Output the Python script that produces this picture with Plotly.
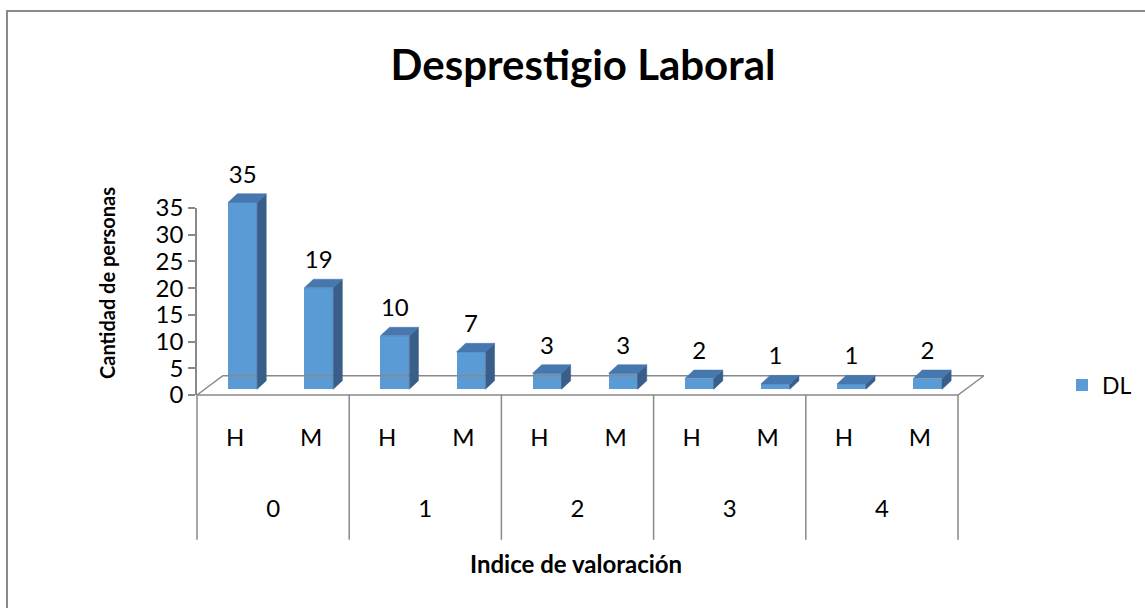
import plotly.graph_objects as go

# ---- data -------------------------------------------------------------
title = "Desprestigio Laboral"
groups = ["0", "1", "2", "3", "4"]
sexes = ["H", "M"]
values = [35, 19, 10, 7, 3, 3, 2, 1, 1, 2]
series_name = "DL"
y_ticks = [0, 5, 10, 15, 20, 25, 30, 35]
x_title = "Indice de valoración"
y_title = "Cantidad de personas"

# ---- look -------------------------------------------------------------
W, H = 1145, 608
FONT = "Lato, 'Open Sans', sans-serif"
GRAY = "#898989"
FRONT = "#5B9BD5"
TOP = "#4677AE"
SIDE = "#395E89"
TXT = 24

# pixel placement of the plot floor (front-left corner) and scales
X0_PX, SLOT_PX = 197, 76.1      # one H/M slot per unit on x
Y0_PX, UNIT_PX = 395, 5.343     # one person per unit on y

DEPTH_X, DEPTH_Y = 0.34, 3.6    # floor depth in data units
BASE = 1.07                     # bars stand a third of the way into the floor
SHIFT = 0.1                     # matching x shift
BAR_W = 0.38
SIDE_DX, SIDE_DY = 0.12, 1.6
LABEL_GAP = 4.8
LOWER = -27.1                   # bottom of category dividers

n_slots = len(groups) * len(sexes)
slot_c = [i + 0.5 for i in range(n_slots)]
bar_x = [c + SHIFT for c in slot_c]
slot_lbl = [s for _ in groups for s in sexes]
group_c = [len(sexes) * (g + 0.5) for g in range(len(groups))]

fig = go.Figure()

# floor
fig.add_trace(
    go.Scatter(
        x=[0, n_slots, n_slots + DEPTH_X, DEPTH_X, 0],
        y=[0, 0, DEPTH_Y, DEPTH_Y, 0],
        mode="lines",
        line=dict(color=GRAY, width=1.5),
        hoverinfo="skip",
        showlegend=False,
    )
)

# category dividers
dx_, dy_ = [], []
for g in range(len(groups) + 1):
    xg = g * len(sexes)
    dx_ += [xg, xg, None]
    dy_ += [0, LOWER, None]
fig.add_trace(
    go.Scatter(
        x=dx_, y=dy_, mode="lines",
        line=dict(color=GRAY, width=1.5),
        hoverinfo="skip", showlegend=False,
    )
)

# front faces
fig.add_trace(
    go.Bar(
        x=bar_x,
        y=values,
        base=BASE,
        width=BAR_W,
        marker=dict(color=FRONT, line=dict(width=0)),
        name=series_name,
        showlegend=True,
    )
)

# top and side faces
tx, ty, sx, sy = [], [], [], []
for xc, v in zip(bar_x, values):
    l, r = xc - BAR_W / 2, xc + BAR_W / 2
    top = BASE + v
    tx += [l, l + SIDE_DX, r + SIDE_DX, r, l, None]
    ty += [top, top + SIDE_DY, top + SIDE_DY, top, top, None]
    sx += [r, r + SIDE_DX, r + SIDE_DX, r, r, None]
    sy += [BASE, BASE + SIDE_DY, top + SIDE_DY, top, BASE, None]
for xs, ys, col in ((sx, sy, SIDE), (tx, ty, TOP)):
    fig.add_trace(
        go.Scatter(
            x=xs, y=ys, mode="lines", fill="toself", fillcolor=col,
            line=dict(color=col, width=0.5),
            hoverinfo="skip", showlegend=False,
        )
    )

# value labels
fig.add_trace(
    go.Scatter(
        x=bar_x,
        y=[BASE + v + LABEL_GAP for v in values],
        mode="text",
        text=[str(v) for v in values],
        textfont=dict(size=TXT, color="black", family=FONT),
        hoverinfo="skip",
        showlegend=False,
    )
)

# category labels (two levels)
fig.add_trace(
    go.Scatter(
        x=slot_c, y=[-8.4] * n_slots, mode="text", text=slot_lbl,
        textfont=dict(size=TXT, color="black", family=FONT),
        hoverinfo="skip", showlegend=False,
    )
)
fig.add_trace(
    go.Scatter(
        x=group_c, y=[-21.7] * len(groups), mode="text", text=groups,
        textfont=dict(size=TXT, color="black", family=FONT),
        hoverinfo="skip", showlegend=False,
    )
)

# value axis lives on its own small subplot with the same scale
fig.add_trace(
    go.Scatter(x=[None], y=[None], xaxis="x2", yaxis="y2",
               showlegend=False, hoverinfo="skip")
)

fig.update_layout(
    width=W,
    height=H,
    margin=dict(l=0, r=0, t=0, b=0, autoexpand=False),
    paper_bgcolor="white",
    plot_bgcolor="rgba(0,0,0,0)",
    font=dict(family=FONT, color="black"),
    xaxis=dict(
        range=[-X0_PX / SLOT_PX, (W - X0_PX) / SLOT_PX],
        domain=[0, 1], visible=False, fixedrange=True, automargin=False,
    ),
    yaxis=dict(
        range=[-(H - Y0_PX) / UNIT_PX, Y0_PX / UNIT_PX],
        domain=[0, 1], visible=False, fixedrange=True, automargin=False,
    ),
    xaxis2=dict(
        domain=[X0_PX / W, 0.85], anchor="y2", visible=False, range=[0, 1],
        automargin=False, fixedrange=True,
    ),
    yaxis2=dict(
        domain=[1 - Y0_PX / H, 1 - (Y0_PX - max(y_ticks) * UNIT_PX) / H],
        anchor="x2",
        range=[0, max(y_ticks)],
        tickvals=y_ticks,
        showline=True,
        linecolor=GRAY,
        linewidth=1.5,
        ticks="outside",
        ticklen=7,
        tickcolor=GRAY,
        tickwidth=1.5,
        showgrid=False,
        zeroline=False,
        automargin=False,
        fixedrange=True,
        tickfont=dict(size=TXT, color="black", family=FONT),
    ),
    title=dict(
        text=f"<b>{title}</b>",
        x=583 / W, xanchor="center",
        y=1 - 65 / H, yanchor="middle",
        font=dict(size=42, color="black", family=FONT),
    ),
    legend=dict(
        x=1062 / W, xanchor="left",
        y=1 - 385 / H, yanchor="middle",
        font=dict(size=23, color="black", family=FONT),
        bgcolor="rgba(0,0,0,0)",
    ),
    showlegend=True,
    bargap=0,
    annotations=[
        dict(
            text=f"<b>{x_title}</b>", x=576 / W, y=1 - 563 / H,
            xref="paper", yref="paper", showarrow=False,
            xanchor="center", yanchor="middle",
            font=dict(size=24, color="black", family=FONT),
        ),
        dict(
            text=f"<b>{y_title}</b>", x=107 / W, y=1 - 283 / H,
            xref="paper", yref="paper", showarrow=False, textangle=-90,
            xanchor="center", yanchor="middle",
            font=dict(size=20, color="black", family=FONT),
        ),
    ],
    shapes=[
        dict(
            type="rect", xref="paper", yref="paper",
            x0=7 / W, y0=1 - 11 / H, x1=1.02, y1=-0.02,
            line=dict(color=GRAY, width=2), layer="below",
        )
    ],
)

fig.write_html(
    "out.html",
    config={"displayModeBar": False},
    post_script="document.body.style.margin='0px';",
)
